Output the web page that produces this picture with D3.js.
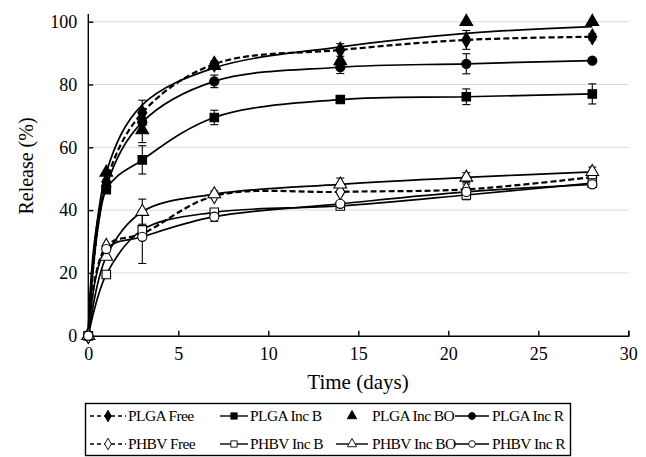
<!DOCTYPE html>
<html>
<head>
<meta charset="utf-8">
<script src="https://cdn.jsdelivr.net/npm/d3@7"></script>
<style>
body { margin: 0; background: #fff; }
svg { display: block; font-family: "Liberation Serif", "Times New Roman", serif; }
</style>
</head>
<body>
<svg id="chart" width="646" height="457"></svg>
<script>
// release data
var days = [0, 1, 3, 7, 14, 21, 28]
var plgaFree = [0, 49, 71, 86.5, 91, 94.2, 95.2]
var plgaIncB = [0, 46.5, 56, 69.5, 75.2, 76.1, 77]
var plgaIncBO = [0, 52, 65.5, 86, 87.5, 100, 100]
var plgaIncBOFit = [0, 52, 73.5, 85.3, 92, 96.3, 98.4]
var plgaIncR = [0, 47.5, 68, 81, 85.5, 86.6, 87.6]
var phbvFree = [0, 28.5, 32.5, 44.5, 45.8, 46.6, 50.5]
var phbvIncB = [0, 19.5, 33.7, 39.3, 41.3, 44.8, 48.6]
var phbvIncBO = [0, 25.2, 39.5, 45.1, 48.2, 50.4, 52.2]
var phbvIncR = [0, 27.6, 31.5, 37.9, 42, 45.8, 48.2]

// error bar half-widths
var plgaFreeErr = [0, 0, 4, 1, 2, 3, 1]
var plgaIncBErr = [0, 0, 4.5, 2.3, 1, 2.5, 3.2]
var plgaIncBOErr = [0, 0, 4, 0, 0, 0, 0]
var plgaIncRErr = [0, 0, 3, 2, 2, 3.2, 0]
var phbvFreeErr = [0, 0, 0, 0, 0, 2.5, 0]
var phbvIncBErr = [0, 0, 0, 0, 0, 1, 0]
var phbvIncBOErr = [0, 0, 4, 1, 2, 1.5, 1.5]
var phbvIncRErr = [0, 0, 8.5, 1.5, 0, 2.5, 0]

var xTicks = [0, 5, 10, 15, 20, 25, 30]
var yTicks = [0, 20, 40, 60, 80, 100]

var series = [
    {name: "PLGA Free", values: plgaFree, err: plgaFreeErr, shape: "diamond", fill: "#000", dash: "6,3", line: true},
    {name: "PLGA Inc B", values: plgaIncB, err: plgaIncBErr, shape: "square", fill: "#000", line: true},
    {name: "PLGA Inc BO", values: plgaIncBO, err: plgaIncBOErr, shape: "triangle", fill: "#000", line: false},
    {name: "PLGA Inc R", values: plgaIncR, err: plgaIncRErr, shape: "circle", fill: "#000", line: true},
    {name: "PHBV Free", values: phbvFree, err: phbvFreeErr, shape: "diamond", fill: "#fff", dash: "6,3", line: true},
    {name: "PHBV Inc B", values: phbvIncB, err: phbvIncBErr, shape: "square", fill: "#fff", line: true},
    {name: "PHBV Inc BO", values: phbvIncBO, err: phbvIncBOErr, shape: "triangle", fill: "#fff", line: true},
    {name: "PHBV Inc R", values: phbvIncR, err: phbvIncRErr, shape: "circle", fill: "#fff", line: true}
]

var symbols = {
    "diamond": d3.symbolDiamond,
    "square": d3.symbolSquare,
    "triangle": d3.symbolTriangle,
    "circle": d3.symbolCircle
}
var sizes = {"diamond": 70, "square": 72, "triangle": 70, "circle": 66}

var svg = d3.select("#chart")
var x = d3.scaleLinear().domain([0, 30]).range([88.3, 628.3])
var y = d3.scaleLinear().domain([0, 100]).range([335.7, 21.7])

// grid
svg.append("g").selectAll("line")
    .data(yTicks.slice(1))
    .enter().append("line")
    .attr("x1", x(0)).attr("x2", x(30))
    .attr("y1", function(d) { return y(d) }).attr("y2", function(d) { return y(d) })
    .attr("stroke", "#d9d9d9").attr("stroke-width", 1)

// axes
var xAxis = d3.axisBottom(x).tickValues(xTicks).tickSize(-5).tickPadding(12)
var yAxis = d3.axisLeft(y).tickValues(yTicks).tickSize(-5).tickPadding(11)
var gx = svg.append("g").attr("transform", "translate(0," + y(0) + ")").call(xAxis)
var gy = svg.append("g").attr("transform", "translate(" + x(0) + ",0)").call(yAxis)
gy.select(".domain").attr("d", "M0," + y(0) + "V14")
;[gx, gy].forEach(function(g) {
    g.selectAll("path, line").attr("stroke", "#000").attr("stroke-width", 1.4)
    g.selectAll("text").attr("font-family", "Liberation Serif").attr("font-size", "18px").attr("fill", "#000")
})

svg.append("text")
    .attr("transform", "translate(33,166) rotate(-90)")
    .attr("text-anchor", "middle")
    .attr("font-size", "20px")
    .text("Release (%)")
svg.append("text")
    .attr("x", 358).attr("y", 389)
    .attr("text-anchor", "middle")
    .attr("font-size", "21px")
    .text("Time (days)")

var line = d3.line()
    .x(function(d) { return x(d[0]) })
    .y(function(d) { return y(d[1]) })
    .curve(d3.curveCatmullRom.alpha(0.5))

var pts = function(vals) {
    return days.map(function(d, i) { return [d, vals[i]] })
}

// fitted curve drawn for PLGA Inc BO (markers only in legend)
svg.append("path")
    .attr("d", line(pts(plgaIncBOFit)))
    .attr("fill", "none").attr("stroke", "#000").attr("stroke-width", 1.7)

series.forEach(function(s) {
    if (!s.line) return
    svg.append("path")
        .attr("d", line(pts(s.values)))
        .attr("fill", "none")
        .attr("stroke", "#000")
        .attr("stroke-width", s.dash ? 2.2 : 1.7)
        .attr("stroke-dasharray", s.dash || null)
})

// error bars
series.forEach(function(s) {
    var g = svg.append("g").attr("stroke", "#000").attr("stroke-width", 1.1)
    days.forEach(function(d, i) {
        var e = s.err[i]
        if (!e) return
        var cx = x(d)
        g.append("line").attr("x1", cx).attr("x2", cx).attr("y1", y(s.values[i] - e)).attr("y2", y(s.values[i] + e))
        g.append("line").attr("x1", cx - 4).attr("x2", cx + 4).attr("y1", y(s.values[i] - e)).attr("y2", y(s.values[i] - e))
        g.append("line").attr("x1", cx - 4).attr("x2", cx + 4).attr("y1", y(s.values[i] + e)).attr("y2", y(s.values[i] + e))
    })
})

// markers
series.forEach(function(s) {
    svg.append("g").selectAll("path")
        .data(pts(s.values))
        .enter().append("path")
        .attr("transform", function(d) { return "translate(" + x(d[0]) + "," + y(d[1]) + ")" })
        .attr("d", d3.symbol().type(symbols[s.shape]).size(sizes[s.shape]))
        .attr("fill", s.fill)
        .attr("stroke", "#000")
        .attr("stroke-width", 1.1)
})

// legend
var legend = svg.append("g")
legend.append("rect")
    .attr("x", 85.5).attr("y", 403.5).attr("width", 485).attr("height", 52)
    .attr("fill", "none").attr("stroke", "#000").attr("stroke-width", 1.4)

var cols = [
    {x1: 90, x2: 126, xt: 128},
    {x1: 220, x2: 248, xt: 250},
    {x1: 336, x2: 368, xt: 372},
    {x1: 455, x2: 489, xt: 492}
]
var rows = [416, 444]

series.forEach(function(s, i) {
    var c = cols[i % 4]
    var ry = rows[Math.floor(i / 4)]
    var g = legend.append("g")
    if (s.line) {
        g.append("line")
            .attr("x1", c.x1).attr("x2", c.x2).attr("y1", ry).attr("y2", ry)
            .attr("stroke", "#000")
            .attr("stroke-width", s.dash ? 1.7 : 1.4)
            .attr("stroke-dasharray", s.dash ? "4,3" : null)
    }
    g.append("path")
        .attr("transform", "translate(" + ((c.x1 + c.x2) / 2) + "," + ry + ")")
        .attr("d", d3.symbol().type(symbols[s.shape]).size(sizes[s.shape] * 0.55))
        .attr("fill", s.fill)
        .attr("stroke", "#000")
        .attr("stroke-width", 0.9)
    g.append("text")
        .attr("x", c.xt).attr("y", ry + 5)
        .attr("font-size", "15.5px")
        .attr("letter-spacing", "-0.6px")
        .text(s.name)
})
</script>
</body>
</html>
